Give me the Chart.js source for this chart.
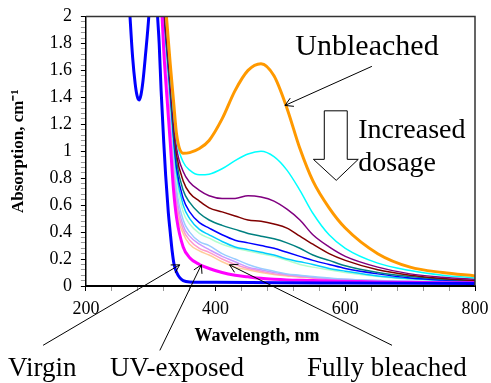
<!DOCTYPE html>
<html>
<head>
<meta charset="utf-8">
<script src="https://cdn.jsdelivr.net/npm/chart.js@4.4.1/dist/chart.umd.min.js"></script>
<style>
  html, body { margin: 0; padding: 0; background: #fff; }
  #wrap { width: 491px; height: 383px; }
</style>
</head>
<body>
<div id="wrap"><canvas id="chart"></canvas></div>
<script>
// wavelength grid (nm) shared by the exposed / bleached series
const wavelengths = [312, 316, 320, 325, 330, 335, 340, 350, 360, 375, 390, 410, 430, 450, 470, 490, 510, 530, 550, 575, 600, 650, 700, 750, 800];

const unbleached = [2.9, 2.55, 2.25, 1.95, 1.65, 1.38, 1.12, 0.985, 0.99, 1.02, 1.08, 1.24, 1.45, 1.6, 1.65, 1.56, 1.32, 1.02, 0.78, 0.58, 0.43, 0.24, 0.14, 0.1, 0.075];
const dose1 = [2.8, 2.45, 2.15, 1.9, 1.6, 1.3, 1.08, 0.92, 0.86, 0.825, 0.83, 0.87, 0.93, 0.98, 1.0, 0.96, 0.86, 0.71, 0.54, 0.38, 0.28, 0.17, 0.115, 0.08, 0.06];
const dose2 = [2.75, 2.4, 2.1, 1.85, 1.55, 1.25, 1.02, 0.85, 0.77, 0.71, 0.67, 0.65, 0.65, 0.67, 0.66, 0.63, 0.57, 0.49, 0.38, 0.29, 0.22, 0.14, 0.09, 0.065, 0.05];
const dose3 = [2.7, 2.38, 2.07, 1.8, 1.5, 1.2, 0.97, 0.78, 0.69, 0.63, 0.58, 0.55, 0.52, 0.49, 0.48, 0.46, 0.43, 0.37, 0.31, 0.24, 0.19, 0.12, 0.08, 0.055, 0.04];
const dose4 = [2.7, 2.36, 2.05, 1.77, 1.47, 1.16, 0.92, 0.71, 0.62, 0.54, 0.49, 0.45, 0.42, 0.39, 0.37, 0.35, 0.32, 0.28, 0.23, 0.19, 0.15, 0.1, 0.07, 0.05, 0.04];
const dose5 = [2.65, 2.34, 2.03, 1.74, 1.44, 1.12, 0.87, 0.65, 0.55, 0.47, 0.43, 0.38, 0.34, 0.32, 0.3, 0.28, 0.25, 0.22, 0.19, 0.16, 0.13, 0.09, 0.06, 0.045, 0.035];
const dose6 = [2.65, 2.32, 2.01, 1.72, 1.41, 1.08, 0.83, 0.6, 0.5, 0.42, 0.38, 0.33, 0.29, 0.27, 0.25, 0.23, 0.2, 0.18, 0.16, 0.13, 0.11, 0.075, 0.055, 0.04, 0.03];
const dose7 = [2.6, 2.3, 2.0, 1.7, 1.39, 1.05, 0.78, 0.55, 0.46, 0.39, 0.355, 0.31, 0.28, 0.26, 0.24, 0.22, 0.19, 0.16, 0.14, 0.12, 0.1, 0.07, 0.05, 0.04, 0.03];
const dose8 = [2.6, 2.29, 1.99, 1.68, 1.37, 1.02, 0.72, 0.49, 0.4, 0.33, 0.3, 0.24, 0.2, 0.16, 0.13, 0.11, 0.09, 0.08, 0.07, 0.06, 0.05, 0.04, 0.035, 0.03, 0.03];
const dose9 = [2.6, 2.28, 1.98, 1.66, 1.34, 0.98, 0.67, 0.45, 0.37, 0.31, 0.27, 0.22, 0.18, 0.14, 0.12, 0.1, 0.085, 0.075, 0.065, 0.055, 0.05, 0.04, 0.03, 0.03, 0.025];
const dose10 = [2.6, 2.27, 1.97, 1.64, 1.3, 0.93, 0.62, 0.42, 0.34, 0.28, 0.25, 0.2, 0.16, 0.13, 0.11, 0.09, 0.08, 0.07, 0.06, 0.05, 0.045, 0.035, 0.03, 0.025, 0.02];
const fullyBleached = [2.6, 2.26, 1.96, 1.62, 1.25, 0.88, 0.57, 0.39, 0.31, 0.26, 0.23, 0.18, 0.14, 0.12, 0.1, 0.085, 0.075, 0.065, 0.06, 0.05, 0.045, 0.035, 0.03, 0.025, 0.02];
const uvExposed = [2.6, 2.15, 1.75, 1.4, 1.07, 0.72, 0.5, 0.29, 0.21, 0.16, 0.13, 0.1, 0.08, 0.068, 0.057, 0.05, 0.045, 0.042, 0.04, 0.037, 0.035, 0.03, 0.028, 0.025, 0.024];

const virginWavelengths = [255, 262, 268, 272, 276, 279, 282, 285, 288, 292, 297, 302, 306, 310, 313, 316, 320, 323, 327, 330, 333, 336, 340, 345, 350, 360, 400, 500, 600, 700, 800];
const virgin = [3.0, 2.5, 2.0, 1.7, 1.5, 1.41, 1.38, 1.42, 1.52, 1.72, 2.0, 2.4, 2.55, 2.05, 1.8, 1.45, 1.07, 0.82, 0.55, 0.4, 0.26, 0.16, 0.1, 0.06, 0.04, 0.03, 0.027, 0.024, 0.022, 0.02, 0.018];

const xTickLabels = [200, 400, 600, 800];
const yTickLabels = [0, 0.2, 0.4, 0.6, 0.8, 1, 1.2, 1.4, 1.6, 1.8, 2];

const serif = "'Liberation Serif', 'Times New Roman', serif";

const pts = (xs, ys) => xs.map((x, i) => ({ x: x, y: ys[i] }));
const line = (label, xs, ys, color, width) => ({
  label: label,
  data: pts(xs, ys),
  borderColor: color,
  borderWidth: width,
  pointRadius: 0,
  fill: false,
  cubicInterpolationMode: 'monotone'
});

// first dataset is drawn on top
const datasets = [
  line('Virgin', virginWavelengths, virgin, '#0000ff', 3),
  line('UV-exposed', wavelengths, uvExposed, '#ff00ff', 3),
  line('Unbleached', wavelengths, unbleached, '#ff9900', 3),
  line('Dose 1', wavelengths, dose1, '#00ffff', 1.5),
  line('Dose 2', wavelengths, dose2, '#800080', 1.5),
  line('Dose 3', wavelengths, dose3, '#800000', 1.5),
  line('Dose 4', wavelengths, dose4, '#008080', 1.5),
  line('Dose 5', wavelengths, dose5, '#0000ff', 1.5),
  line('Dose 6', wavelengths, dose6, '#00ccff', 1.5),
  line('Dose 7', wavelengths, dose7, '#b3ffcc', 1.5),
  line('Dose 8', wavelengths, dose8, '#99ccff', 1.5),
  line('Dose 9', wavelengths, dose9, '#cc99ff', 1.5),
  line('Dose 10', wavelengths, dose10, '#ff99cc', 1.5),
  line('Fully bleached', wavelengths, fullyBleached, '#ffcc99', 1.5)
];

// annotations, placed in data units
const notes = [
  { text: 'Unbleached', x: 523, y: 1.716, size: 30 },
  { text: 'Increased', x: 620, y: 1.097, size: 28 },
  { text: 'dosage', x: 620, y: 0.851, size: 28 },
  { text: 'Virgin', x: 80, y: -0.665, size: 27 },
  { text: 'UV-exposed', x: 237, y: -0.665, size: 27 },
  { text: 'Fully bleached', x: 541, y: -0.665, size: 27 },
  { text: 'Wavelength, nm', x: 464, y: -0.41, size: 18, bold: true, center: true }
];
const arrows = [
  [641, 1.63, 507, 1.34],
  [134, -0.44, 344.6, 0.157],
  [314, -0.478, 378, 0.157],
  [672, -0.44, 421.5, 0.157]
];
const bigArrow = [[567.6, 1.3], [603, 1.3], [603, 0.94], [620, 0.94], [586, 0.784], [550.8, 0.94], [567.6, 0.94]];

function drawArrow(ctx, x1, y1, x2, y2) {
  const ang = Math.atan2(y2 - y1, x2 - x1), L = 9, s = Math.PI / 6;
  ctx.beginPath();
  ctx.moveTo(x1, y1);
  ctx.lineTo(x2, y2);
  ctx.moveTo(x2 - L * Math.cos(ang - s), y2 - L * Math.sin(ang - s));
  ctx.lineTo(x2, y2);
  ctx.lineTo(x2 - L * Math.cos(ang + s), y2 - L * Math.sin(ang + s));
  ctx.stroke();
}

const overlay = {
  id: 'overlay',
  afterDatasetsDraw(chart) {
    const { ctx, chartArea: a } = chart;
    const px = v => chart.scales.x.getPixelForValue(v);
    const py = v => chart.scales.y.getPixelForValue(v);
    ctx.save();
    // top and right frame
    ctx.strokeStyle = '#333';
    ctx.lineWidth = 1.5;
    ctx.beginPath();
    ctx.moveTo(a.left, a.top);
    ctx.lineTo(a.right, a.top);
    ctx.lineTo(a.right, a.bottom);
    ctx.stroke();

    ctx.strokeStyle = '#000';
    ctx.lineWidth = 1;
    arrows.forEach(r => drawArrow(ctx, px(r[0]), py(r[1]), px(r[2]), py(r[3])));

    ctx.beginPath();
    bigArrow.forEach((p, i) => i ? ctx.lineTo(px(p[0]), py(p[1])) : ctx.moveTo(px(p[0]), py(p[1])));
    ctx.closePath();
    ctx.fillStyle = '#fff';
    ctx.fill();
    ctx.stroke();

    ctx.fillStyle = '#000';
    ctx.textBaseline = 'alphabetic';
    notes.forEach(n => {
      ctx.font = (n.bold ? 'bold ' : '') + n.size + 'px ' + serif;
      ctx.textAlign = n.center ? 'center' : 'left';
      ctx.fillText(n.text, px(n.x), py(n.y));
    });
    ctx.restore();
  }
};

const isLabel = (list, v) => list.some(l => Math.abs(l - v) < 1e-6);

new Chart(document.getElementById('chart'), {
  type: 'line',
  data: { datasets: datasets },
  plugins: [overlay],
  options: {
    responsive: true,
    maintainAspectRatio: false,
    animation: false,
    layout: { padding: { left: 0, right: 0, top: 0, bottom: 56 } },
    plugins: { legend: { display: false }, tooltip: { enabled: false } },
    scales: {
      x: {
        type: 'linear',
        min: 200,
        max: 800,
        afterFit: s => { s.paddingRight = 16; s.paddingLeft = 0; },
        ticks: {
          stepSize: 40,
          autoSkip: false,
          maxRotation: 0,
          padding: 9,
          color: '#000',
          font: { family: serif, size: 18, lineHeight: 1 },
          callback: v => isLabel(xTickLabels, v) ? String(v) : ''
        },
        grid: {
          drawOnChartArea: false,
          tickLength: 5,
          tickColor: c => isLabel(xTickLabels, c.tick.value) ? '#000' : '#999'
        },
        border: { color: '#000', width: 2 }
      },
      y: {
        min: 0,
        max: 2,
        afterFit: s => { s.paddingTop = 16.5; s.paddingBottom = 0; },
        ticks: {
          stepSize: 0.04,
          autoSkip: false,
          padding: 9,
          color: '#000',
          font: { family: serif, size: 18 },
          callback: v => {
            const l = yTickLabels.find(t => Math.abs(t - v) < 1e-6);
            return l === undefined ? '' : String(l);
          }
        },
        grid: {
          drawOnChartArea: false,
          tickLength: 5,
          tickColor: c => isLabel(yTickLabels, c.tick.value) ? '#000' : '#999'
        },
        border: { color: '#000', width: 1.5 },
        title: {
          display: true,
          text: 'Absorption, cm\u207B\u00B9',
          color: '#000',
          font: { family: serif, size: 17, weight: 'bold' },
          padding: { top: 8, bottom: 12 }
        }
      }
    }
  }
});
</script>
</body>
</html>
